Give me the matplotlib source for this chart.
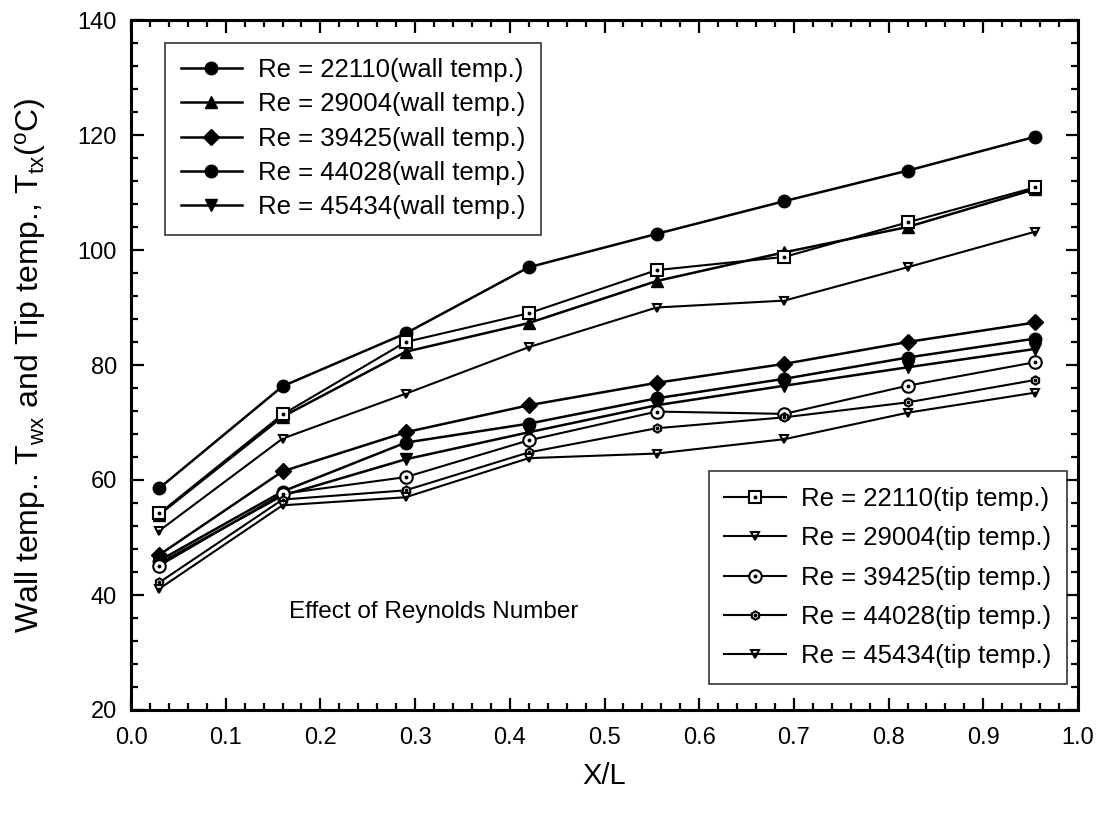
import matplotlib
matplotlib.use('Agg')
import matplotlib.pyplot as plt
from matplotlib.ticker import MultipleLocator
from matplotlib.legend_handler import HandlerTuple

plt.rcParams['font.family'] = ['Liberation Sans', 'DejaVu Sans']
plt.rcParams['mathtext.fontset'] = 'custom'
plt.rcParams['mathtext.rm'] = 'Liberation Sans'
plt.rcParams['mathtext.it'] = 'Liberation Sans:italic'

# ---------------- data ----------------
x_over_L = [0.03, 0.16, 0.29, 0.42, 0.555, 0.69, 0.82, 0.955]
reynolds = ['22110', '29004', '39425', '44028', '45434']

wall_22110 = [58.6, 76.3, 85.5, 97.0, 102.8, 108.5, 113.8, 119.7]
wall_29004 = [54.0, 71.0, 82.3, 87.3, 94.6, 99.6, 104.0, 110.6]
wall_39425 = [47.0, 61.5, 68.3, 73.0, 76.9, 80.2, 84.0, 87.4]
wall_44028 = [46.0, 58.0, 66.5, 69.8, 74.2, 77.6, 81.3, 84.6]
wall_45434 = [45.5, 57.3, 63.6, 68.3, 73.0, 76.4, 79.6, 82.8]

tip_22110 = [54.2, 71.4, 84.0, 89.0, 96.5, 98.8, 104.8, 110.9]
tip_29004 = [51.2, 67.2, 75.0, 83.1, 90.0, 91.2, 97.0, 103.2]
tip_39425 = [45.1, 57.6, 60.5, 66.9, 71.9, 71.5, 76.4, 80.5]
tip_44028 = [42.2, 56.6, 58.2, 64.8, 69.0, 70.9, 73.5, 77.4]
tip_45434 = [41.1, 55.6, 57.0, 63.8, 64.6, 67.1, 71.7, 75.2]

annotation = 'Effect of Reynolds Number'

wall_series = [wall_22110, wall_29004, wall_39425, wall_44028, wall_45434]
tip_series = [tip_22110, tip_29004, tip_39425, tip_44028, tip_45434]

wall_markers = ['o', '^', 'D', 'o', 'v']
wall_ms = [9, 9, 8, 9, 9]
tip_markers = ['s', 'v', 'o', 'h', 'v']
tip_ms = [9, 6, 9, 6, 6]

# ---------------- figure ----------------
fig = plt.figure(figsize=(11.2, 8.14), dpi=100)
ax = fig.add_axes([131 / 1120, 104 / 814, 947 / 1120, 690 / 814])

wall_handles = []
for ys, m, ms in zip(wall_series, wall_markers, wall_ms):
    ln, = ax.plot(x_over_L, ys, color='black', lw=1.8, marker=m, ms=ms,
                  mfc='black', mec='black', zorder=3)
    wall_handles.append(ln)

tip_handles = []
for ys, m, ms in zip(tip_series, tip_markers, tip_ms):
    ln, = ax.plot(x_over_L, ys, color='black', lw=1.5, marker=m, ms=ms,
                  mfc='white', mec='black', mew=1.5, zorder=4)
    dot, = ax.plot(x_over_L, ys, ls='none', marker='o', ms=1.8,
                   mfc='black', mec='black', zorder=5)
    tip_handles.append((ln, dot))

ax.set_xlim(0.0, 1.0)
ax.set_ylim(20, 140)
ax.xaxis.set_major_locator(MultipleLocator(0.1))
ax.xaxis.set_minor_locator(MultipleLocator(0.02))
ax.yaxis.set_major_locator(MultipleLocator(20))
ax.yaxis.set_minor_locator(MultipleLocator(4))
ax.tick_params(which='both', direction='in', top=True, right=True,
               width=1.6, labelsize=17)
ax.tick_params(which='major', length=9)
ax.tick_params(which='minor', length=5)
ax.tick_params(axis='x', which='major', pad=12)
ax.tick_params(axis='y', which='major', pad=10)
ax.xaxis.set_major_formatter(plt.FuncFormatter(lambda v, p: f'{v:.1f}'))
for s in ax.spines.values():
    s.set_linewidth(2.2)

ax.set_xlabel('X/L', fontsize=21)
ax.xaxis.set_label_coords(0.5, -0.075)
ax.set_ylabel('Wall temp.. T$_{\\mathregular{wx}}$ and Tip temp., '
              'T$_{\\mathregular{tx}}$($^{\\mathregular{o}}$C)',
              fontsize=23)
ax.yaxis.set_label_coords(-0.088, 0.5)

leg1 = ax.legend(wall_handles,
                 [f'Re = {r}(wall temp.)' for r in reynolds],
                 loc='upper left', bbox_to_anchor=(0.036, 0.967),
                 borderaxespad=0, fontsize=18.5, frameon=True, fancybox=False,
                 edgecolor='black', handlelength=2.4, labelspacing=0.4,
                 handletextpad=0.6, borderpad=0.6)
leg1.get_frame().set_linewidth(1.2)
ax.add_artist(leg1)

leg2 = ax.legend(tip_handles,
                 [f'Re = {r}(tip temp.)' for r in reynolds],
                 handler_map={tuple: HandlerTuple(ndivide=1)},
                 loc='lower left', bbox_to_anchor=(0.61, 0.038),
                 borderaxespad=0, fontsize=18.5, frameon=True, fancybox=False,
                 edgecolor='black', handlelength=2.4, labelspacing=0.6,
                 handletextpad=0.6, borderpad=0.6)
leg2.get_frame().set_linewidth(1.2)

ax.text(0.167, 0.142, annotation, transform=ax.transAxes, fontsize=17.5,
        va='center', ha='left')

fig.savefig('out.png', dpi=100)
